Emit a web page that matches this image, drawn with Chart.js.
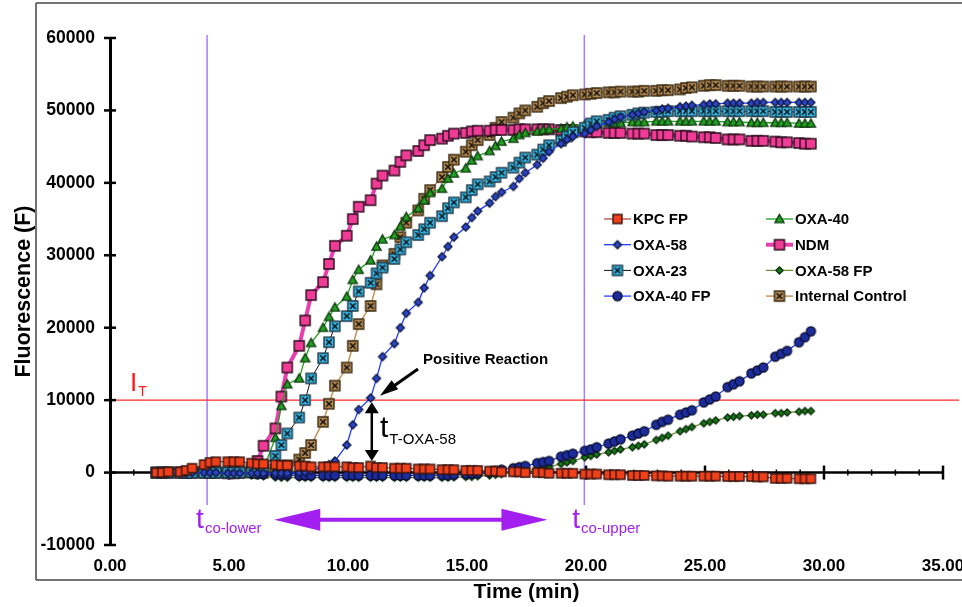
<!DOCTYPE html>
<html>
<head>
<meta charset="utf-8">
<title>Fluorescence vs time</title>
<script src="https://cdn.jsdelivr.net/npm/chart.js@4.4.1/dist/chart.umd.min.js"></script>
<style>
  html, body { margin: 0; padding: 0; background: #fff; }
  #chart { display: block; }
</style>
</head>
<body>
<canvas id="chart" width="962" height="607"></canvas>
<script>
// Sampling times (min) - readings come in small bursts once a minute
const TIMES = [
  1.95, 2.2, 2.45, 2.95, 3.2, 3.45, 3.95, 4.2, 4.45, 4.95, 5.2, 5.45,
  5.95, 6.2, 6.45, 6.95, 7.2, 7.45, 7.95, 8.2, 8.45, 8.95, 9.2, 9.45,
  9.95, 10.2, 10.45, 10.95, 11.2, 11.45, 11.95, 12.2, 12.45, 12.95, 13.2, 13.45,
  13.95, 14.2, 14.45, 14.95, 15.2, 15.45, 15.95, 16.2, 16.45, 16.95, 17.2, 17.45,
  17.95, 18.2, 18.45, 18.95, 19.2, 19.45, 19.95, 20.2, 20.45, 20.95, 21.2, 21.45,
  21.95, 22.2, 22.45, 22.95, 23.2, 23.45, 23.95, 24.2, 24.45, 24.95, 25.2, 25.45,
  25.95, 26.2, 26.45, 26.95, 27.2, 27.45, 27.95, 28.2, 28.45, 28.95, 29.2, 29.45
];

const KPC_FP = [
  0, 0, 100, 100, 300, 600, 1100, 1400, 1500, 1500, 1500, 1500,
  1300, 1200, 1200, 1100, 1000, 1000, 900, 900, 800, 800, 800, 800,
  800, 700, 700, 900, 700, 700, 600, 600, 600, 500, 500, 500,
  400, 400, 400, 300, 300, 300, 200, 200, 100, 100, 100, 0,
  0, 0, -100, -100, -100, -100, -200, -200, -200, -300, -300, -300,
  -400, -400, -400, -450, -450, -500, -500, -500, -500, -500, -500, -500,
  -550, -550, -550, -550, -600, -600, -800, -800, -800, -850, -850, -850
];
const OXA_58 = [
  0, 0, 0, 0, 0, 0, 0, 0, 0, -100, -100, -100,
  -100, -100, -100, -100, -100, -100, 0, 100, 300, 700, 1100, 1600,
  3800, 6600, 8700, 10300, 13000, 16000, 17800, 20000, 22000, 23500, 25500, 27200,
  29800, 31200, 32500, 33900, 35200, 36100, 37200, 38100, 38700, 39500, 40600, 41400,
  42500, 43400, 44300, 45400, 46000, 46400, 46800, 47300, 47800, 48400, 48800, 49100,
  49400, 49600, 49800, 50000, 50200, 50300, 50500, 50600, 50700, 50800, 50900, 50900,
  51000, 51000, 51000, 51000, 51100, 51100, 51100, 51100, 51100, 51100, 51100, 51100
];
const OXA_23 = [
  0, 0, 0, 0, 0, 0, 0, 0, 0, 0, 0, 0,
  100, 300, 900, 2300, 3800, 5400, 7600, 10000, 13000, 15800, 18000, 20200,
  21600, 23000, 25000, 26200, 27500, 28300, 29500, 30800, 31800, 32800, 33600, 34500,
  35400, 36500, 37300, 38000, 39000, 39800, 40200, 40800, 41400, 42100, 42800, 43500,
  43900, 44600, 45200, 45800, 46400, 47000, 47600, 48200, 48500, 48700, 49000, 49200,
  49400, 49600, 49700, 49800, 49800, 49900, 49900, 49900, 49900, 49900, 49900, 49900,
  49900, 49900, 49900, 49900, 49900, 49900, 49800, 49800, 49800, 49800, 49800, 49800
];
const OXA_40_FP = [
  0, 0, 0, 0, 0, 0, 0, 0, 0, 0, 0, 0,
  -100, -200, -200, -300, -300, -300, -400, -400, -400, -400, -400, -400,
  -400, -400, -400, -400, -400, -400, -400, -400, -400, -400, -400, -400,
  -350, -350, -300, -200, -150, -100, 100, 250, 400, 600, 750, 900,
  1300, 1450, 1600, 2200, 2400, 2600, 3000, 3200, 3500, 4000, 4300, 4600,
  5100, 5400, 5700, 6600, 7000, 7300, 8000, 8300, 8600, 9700, 10100, 10500,
  11800, 12200, 12600, 13700, 14100, 14500, 16000, 16400, 16800, 18000, 18700, 19500
];
const OXA_40 = [
  0, 0, 0, 0, 0, 0, 0, 0, 0, 0, 0, 0,
  0, 100, 500, 4800, 9200, 12200, 13000, 15800, 17900, 20000, 21500, 22800,
  24300, 26600, 28000, 29300, 31200, 32200, 32800, 34000, 35300, 36500, 37600, 38600,
  39200, 40600, 41300, 42000, 43100, 43700, 44400, 45100, 45700, 46100, 46600, 46900,
  47100, 47300, 47400, 47500, 47700, 47800, 48000, 48100, 48100, 48300, 48300, 48300,
  48400, 48400, 48400, 48500, 48500, 48500, 48500, 48500, 48500, 48500, 48500, 48500,
  48400, 48400, 48400, 48300, 48300, 48300, 48300, 48300, 48300, 48200, 48200, 48200
];
const NDM = [
  0, 0, 0, 0, 0, 0, 0, 0, 0, -100, -100, 0,
  500, 1600, 3700, 6100, 10500, 14500, 17500, 21000, 24500, 26300, 28800, 31300,
  32700, 35000, 36700, 37600, 39900, 41000, 41700, 42900, 43800, 44400, 45200, 45900,
  46100, 46500, 46800, 46900, 47100, 47200, 47200, 47300, 47300, 47300, 47400, 47400,
  47400, 47400, 47400, 47300, 47300, 47300, 47100, 47000, 47000, 46900, 46900, 46900,
  46800, 46800, 46800, 46600, 46600, 46600, 46500, 46500, 46400, 46300, 46300, 46200,
  46000, 46000, 46000, 45800, 45800, 45800, 45700, 45600, 45600, 45500, 45400, 45400
];
const OXA_58_FP = [
  0, 0, 0, 0, 0, 0, 0, 0, 0, -200, -200, -200,
  -400, -400, -500, -650, -700, -700, -700, -700, -700, -700, -700, -700,
  -700, -700, -700, -700, -700, -700, -700, -700, -700, -700, -700, -700,
  -700, -700, -650, -600, -600, -500, -400, -300, -200, 0, 100, 200,
  500, 650, 800, 1200, 1400, 1600, 2100, 2300, 2500, 2800, 3000, 3200,
  3500, 3700, 3900, 4500, 4800, 5100, 5700, 6000, 6300, 6800, 7000, 7200,
  7600, 7700, 7800, 7900, 8000, 8000, 8200, 8200, 8300, 8400, 8500, 8500
];
const INTERNAL_CONTROL = [
  0, 0, 0, 0, 0, 0, 0, 0, 0, 0, 0, 0,
  0, 0, 0, 200, 500, 1000, 1800, 2700, 3800, 7000, 9500, 12000,
  14500, 17500, 20500, 23000, 26000, 28600, 30200, 32500, 34500, 36200, 37800, 39000,
  40800, 42200, 43200, 44300, 45200, 45900, 46600, 47600, 48400, 49000, 49600, 50000,
  50500, 51000, 51300, 51700, 51900, 52100, 52200, 52300, 52400, 52500, 52500, 52600,
  52600, 52600, 52700, 52700, 52800, 52800, 52900, 53100, 53200, 53400, 53500, 53500,
  53400, 53400, 53400, 53300, 53300, 53300, 53300, 53300, 53300, 53300, 53300, 53300
];

const SERIES_NAMES = ['KPC FP', 'OXA-58', 'OXA-23', 'OXA-40 FP', 'OXA-40', 'NDM', 'OXA-58 FP', 'Internal Control'];
const SERIES_VALUES = [KPC_FP, OXA_58, OXA_23, OXA_40_FP, OXA_40, NDM, OXA_58_FP, INTERNAL_CONTROL];

const X_TICKS = [0, 5, 10, 15, 20, 25, 30, 35];
const Y_TICKS = [-10000, 0, 10000, 20000, 30000, 40000, 50000, 60000];

// annotation values (data units)
const THRESHOLD = 10000;
const T_CO_LOWER = 4.08;
const T_CO_UPPER = 19.93;
const T_OXA58 = 11.0;

const FONT = '"Liberation Sans", Arial, Helvetica, sans-serif';
const PURPLE = '#a21ff0';

// build marker images
function makeMarker(shape, size, fill, stroke, cross) {
  const c = document.createElement('canvas');
  c.width = c.height = size + 4;
  const g = c.getContext('2d');
  const m = c.width / 2, h = size / 2;
  g.fillStyle = fill;
  g.strokeStyle = stroke;
  g.lineWidth = 1.4;
  g.beginPath();
  if (shape === 'square') {
    g.rect(m - h, m - h, size, size);
  } else if (shape === 'diamond') {
    g.moveTo(m, m - h); g.lineTo(m + h, m); g.lineTo(m, m + h); g.lineTo(m - h, m); g.closePath();
  } else if (shape === 'circle') {
    g.arc(m, m, h, 0, Math.PI * 2);
  } else if (shape === 'triangle') {
    g.moveTo(m, m - h); g.lineTo(m + h, m + h * 0.8); g.lineTo(m - h, m + h * 0.8); g.closePath();
  }
  g.fill();
  g.stroke();
  if (cross) {
    const k = h - 2.2;
    g.strokeStyle = cross;
    g.lineWidth = 1.5;
    g.beginPath();
    g.moveTo(m - k, m - k); g.lineTo(m + k, m + k);
    g.moveTo(m + k, m - k); g.lineTo(m - k, m + k);
    g.stroke();
  }
  return c;
}

const STYLES = [
  { line: '#b03a3a', width: 1.2, marker: makeMarker('square', 9, '#f0401a', '#3a1510') },
  { line: '#1e3cff', width: 1.3, marker: makeMarker('diamond', 8, '#2a45c8', '#101840') },
  { line: '#111111', width: 1.0, marker: makeMarker('square', 10, '#35b8e8', '#1f3a48', '#111') },
  { line: '#2844ff', width: 1.3, marker: makeMarker('circle', 9, '#1c2c9c', '#0a0f30') },
  { line: '#22a022', width: 1.3, marker: makeMarker('triangle', 9, '#22a022', '#0e3a0e') },
  { line: '#e83fae', width: 4.0, marker: makeMarker('square', 10, '#f03c96', '#2a0c1c') },
  { line: '#6f8f3c', width: 1.3, marker: makeMarker('diamond', 7, '#167a16', '#0a2a0a') },
  { line: '#c8935b', width: 1.5, marker: makeMarker('square', 10, '#b48a52', '#3a2a12', '#111') }
];

function line(ctx, x1, y1, x2, y2) {
  ctx.beginPath();
  ctx.moveTo(x1, y1);
  ctx.lineTo(x2, y2);
  ctx.stroke();
}

function triangle(ctx, tipX, tipY, baseX, baseY, half) {
  const dx = baseX - tipX, dy = baseY - tipY;
  const len = Math.hypot(dx, dy);
  const nx = -dy / len * half, ny = dx / len * half;
  ctx.beginPath();
  ctx.moveTo(tipX, tipY);
  ctx.lineTo(baseX + nx, baseY + ny);
  ctx.lineTo(baseX - nx, baseY - ny);
  ctx.closePath();
  ctx.fill();
}

function subText(ctx, main, sub, x, y, mainSize, subSize, color, drop) {
  ctx.fillStyle = color;
  ctx.textAlign = 'left';
  ctx.textBaseline = 'alphabetic';
  ctx.font = mainSize + 'px ' + FONT;
  ctx.fillText(main, x, y);
  const w = ctx.measureText(main).width;
  ctx.font = subSize + 'px ' + FONT;
  ctx.fillText(sub, x + w + 1, y + drop);
}

// frame, threshold, cut-off lines and axis ticks (under the data)
const backdropPlugin = {
  id: 'backdrop',
  beforeDraw(chart) {
    const ctx = chart.ctx;
    ctx.save();
    ctx.fillStyle = '#fff';
    ctx.fillRect(0, 0, chart.width, chart.height);
    ctx.strokeStyle = '#444';
    ctx.lineWidth = 1.5;
    line(ctx, 36, 3, chart.width, 3);
    line(ctx, 36, 3, 36, 580);
    line(ctx, 36, 580, chart.width, 580);
    ctx.restore();
  },
  beforeDatasetsDraw(chart) {
    const { ctx, chartArea: a, scales: { x, y } } = chart;
    ctx.save();
    // cut-off times
    ctx.strokeStyle = '#a57bff';
    ctx.lineWidth = 1.5;
    [T_CO_LOWER, T_CO_UPPER].forEach(t => {
      const px = x.getPixelForValue(t);
      line(ctx, px, a.top - 3, px, 505);
    });
    // threshold I_T
    ctx.strokeStyle = '#ff2b2b';
    ctx.lineWidth = 1.3;
    const ty = y.getPixelForValue(THRESHOLD);
    line(ctx, a.left, ty, chart.width - 3, ty);
    // y ticks crossing the axis
    ctx.strokeStyle = '#000';
    ctx.lineWidth = 2.5;
    Y_TICKS.forEach(v => {
      const py = y.getPixelForValue(v);
      line(ctx, a.left - 6, py, a.left + 6, py);
    });
    // x axis drawn along F = 0
    const zy = y.getPixelForValue(0);
    const xEnd = x.getPixelForValue(X_TICKS[X_TICKS.length - 1]);
    ctx.lineWidth = 2.5;
    line(ctx, a.left, zy, xEnd, zy);
    for (let t = 1; t <= 35; t++) {
      const px = x.getPixelForValue(t);
      const major = t % 5 === 0;
      ctx.lineWidth = major ? 2.5 : 1.5;
      const len = major ? 7 : 3;
      line(ctx, px, zy - len, px, zy + len);
    }
    ctx.restore();
  }
};

// labels, arrows and legend (over the data)
const notesPlugin = {
  id: 'notes',
  afterDraw(chart) {
    const { ctx, scales: { x, y } } = chart;
    ctx.save();

    // I_T
    subText(ctx, 'I', 'T', 130, 391, 26, 14, '#ff1a1a', 5);

    // Positive reaction arrow
    ctx.fillStyle = '#000';
    ctx.font = 'bold 15px ' + FONT;
    ctx.textAlign = 'left';
    ctx.textBaseline = 'alphabetic';
    ctx.fillText('Positive Reaction', 423, 364);
    const tipX = x.getPixelForValue(11.34), tipY = y.getPixelForValue(10600);
    ctx.strokeStyle = '#000';
    ctx.lineWidth = 3;
    line(ctx, 418, 369, tipX + 10, tipY - 7);
    triangle(ctx, tipX, tipY, tipX + 15, tipY - 11, 5.5);

    // t_T-OXA-58 double arrow
    const ax = x.getPixelForValue(T_OXA58);
    const aTop = y.getPixelForValue(9700), aBot = y.getPixelForValue(1600);
    ctx.lineWidth = 2.5;
    line(ctx, ax, aTop + 8, ax, aBot - 8);
    triangle(ctx, ax, aTop, ax, aTop + 11, 7);
    triangle(ctx, ax, aBot, ax, aBot - 11, 7);
    subText(ctx, 't', 'T-OXA-58', 380, 437, 30, 15, '#000', 7);

    // cut-off labels and range arrow
    subText(ctx, 't', 'co-lower', x.getPixelForValue(T_CO_LOWER) - 11, 528, 28, 15, PURPLE, 5);
    subText(ctx, 't', 'co-upper', x.getPixelForValue(T_CO_UPPER) - 12, 528, 28, 15, PURPLE, 5);
    const ay = y.getPixelForValue(-6500);
    const l = x.getPixelForValue(6.9), r = x.getPixelForValue(18.38);
    ctx.fillStyle = PURPLE;
    ctx.strokeStyle = PURPLE;
    ctx.lineWidth = 4;
    line(ctx, l + 40, ay, r - 40, ay);
    triangle(ctx, l, ay, l + 46, ay, 11);
    triangle(ctx, r, ay, r - 46, ay, 11);

    // legend, two columns
    ctx.font = 'bold 15px ' + FONT;
    ctx.textBaseline = 'middle';
    SERIES_NAMES.forEach((name, i) => {
      const col = Math.floor(i / 4), row = i % 4;
      const lx = col === 0 ? 604 : 766;
      const ly = 219 + row * 25.7;
      const st = STYLES[i];
      ctx.strokeStyle = st.line;
      ctx.lineWidth = st.width;
      line(ctx, lx, ly, lx + 27, ly);
      const mk = st.marker;
      ctx.drawImage(mk, lx + 13.5 - mk.width / 2, ly - mk.height / 2);
      ctx.fillStyle = '#000';
      ctx.fillText(name, lx + 29, ly + 1);
    });
    ctx.restore();
  }
};

const datasets = SERIES_NAMES.map((name, i) => ({
  label: name,
  data: TIMES.map((t, j) => ({ x: t, y: SERIES_VALUES[i][j] })),
  borderColor: STYLES[i].line,
  borderWidth: STYLES[i].width,
  pointStyle: STYLES[i].marker,
  pointRadius: 4,
  fill: false,
  tension: 0
}));

new Chart(document.getElementById('chart'), {
  type: 'line',
  data: { datasets: datasets },
  options: {
    responsive: false,
    animation: false,
    layout: { padding: { left: 0, top: 38, right: 19, bottom: 0 } },
    plugins: {
      legend: { display: false },
      tooltip: { enabled: false }
    },
    scales: {
      x: {
        type: 'linear',
        min: 0,
        max: 35,
        afterBuildTicks: function(scale) {
          scale.ticks = X_TICKS.map(v => ({ value: v }));
        },
        afterFit: function(scale) {
          scale.height = 62;
          scale.paddingLeft = 0;
          scale.paddingRight = 0;
        },
        grid: { display: false, drawTicks: false },
        border: { display: false },
        ticks: {
          maxRotation: 0,
          autoSkip: false,
          padding: 11,
          color: '#000',
          font: { family: FONT, size: 17, weight: 'bold' },
          callback: v => v.toFixed(2)
        },
        title: {
          display: true,
          text: 'Time (min)',
          color: '#000',
          font: { family: FONT, size: 21, weight: 'bold' },
          padding: { top: 0, bottom: 2 }
        }
      },
      y: {
        type: 'linear',
        min: -10000,
        max: 60000,
        afterBuildTicks: function(scale) {
          scale.ticks = Y_TICKS.map(v => ({ value: v }));
        },
        afterFit: function(scale) {
          scale.width = 110;
          scale.paddingTop = 0;
          scale.paddingBottom = 0;
        },
        grid: { display: false, drawTicks: false },
        border: { display: true, color: '#000', width: 3 },
        ticks: {
          padding: 15,
          color: '#000',
          font: { family: FONT, size: 17.5, weight: 'bold' },
          callback: v => String(v)
        },
        title: {
          display: true,
          text: 'Fluorescence (F)',
          color: '#000',
          font: { family: FONT, size: 21.5, weight: 'bold' },
          padding: { top: 11, bottom: 0 }
        }
      }
    }
  },
  plugins: [backdropPlugin, notesPlugin]
});
</script>
</body>
</html>
